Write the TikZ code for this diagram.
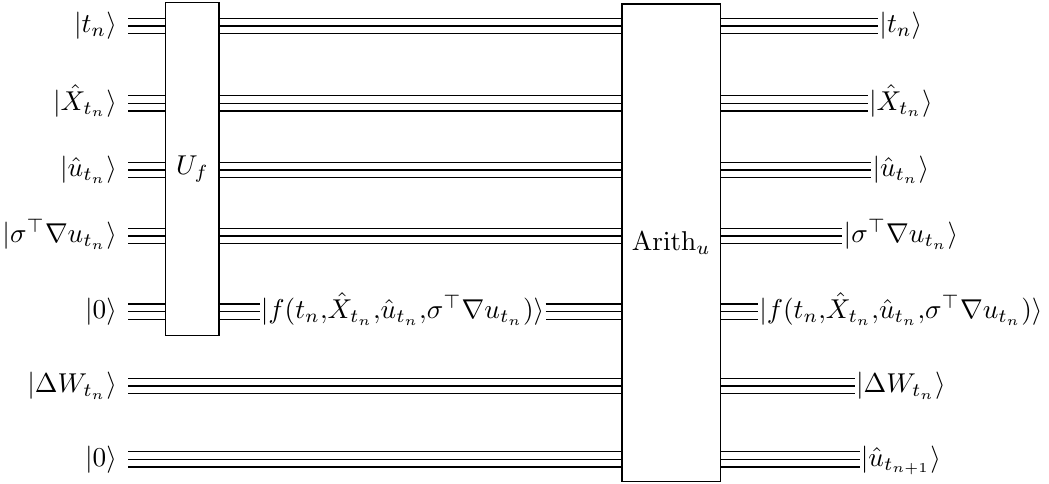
\documentclass[tikz,border=0pt]{standalone}
\usepackage{amsmath,amssymb}
\usetikzlibrary{positioning}

\begin{document}
\begin{tikzpicture}[
  bundle/.style={line width=6.1pt, postaction={draw=white, line width=5.1pt},
                 postaction={draw=black, line width=0.5pt}},
  gatebox/.style={draw, line width=0.5pt, fill=white, inner sep=0pt},
  instate/.style={anchor=east, inner xsep=4pt, inner ysep=0pt,
                  text height=7.5pt, text depth=2.5pt},
  outstate/.style={inner xsep=0.3pt, inner ysep=0pt,
                   text height=7.5pt, text depth=2.5pt}
]

% Frame
\useasboundingbox (0,0) rectangle (13.53,-6.24);

% Gates
\node[gatebox, minimum width=0.688cm, minimum height=4.296cm] (uf) at (2.482,-2.183) {$U_f$};
\node[gatebox, minimum width=1.275cm, minimum height=6.163cm] (arith) at (8.658,-3.133) {$\mathrm{Arith}_u$};

% Input registers
\node[instate] (in1) at (1.655,-0.335) {$|t_n\rangle$};
\node[instate] (in2) at (1.655,-1.333) {$|\hat{X}_{t_n}\rangle$};
\node[instate] (in3) at (1.655,-2.193) {$|\hat{u}_{t_n}\rangle$};
\node[instate] (in4) at (1.655,-3.044) {$|\sigma^\top\nabla u_{t_n}\rangle$};
\node[instate] (in5) at (1.655,-4.021) {$|0\rangle$};
\node[instate] (in6) at (1.655,-4.979) {$|\Delta W_{t_n}\rangle$};
\node[instate] (in7) at (1.655,-5.925) {$|0\rangle$};

% Intermediate register
\node[outstate] (mid) at (5.192,-4.021) {$|f(t_n{,}\hat{X}_{t_n}{,}\hat{u}_{t_n}{,}\sigma^\top\nabla u_{t_n})\rangle$};

% Output registers
\node[outstate] (out1) at (11.62,-0.335) {$|t_n\rangle$};
\node[outstate] (out2) at (11.62,-1.333) {$|\hat{X}_{t_n}\rangle$};
\node[outstate] (out3) at (11.62,-2.193) {$|\hat{u}_{t_n}\rangle$};
\node[outstate] (out4) at (11.62,-3.044) {$|\sigma^\top\nabla u_{t_n}\rangle$};
\node[outstate] (out5) at (11.62,-4.021) {$|f(t_n{,}\hat{X}_{t_n}{,}\hat{u}_{t_n}{,}\sigma^\top\nabla u_{t_n})\rangle$};
\node[outstate] (out6) at (11.62,-4.979) {$|\Delta W_{t_n}\rangle$};
\node[outstate] (out7) at (11.62,-5.925) {$|\hat{u}_{t_{n+1}}\rangle$};

% Wires into U_f
\draw[bundle] (in1.east) -- (in1.east -| uf.west);
\draw[bundle] (in2.east) -- (in2.east -| uf.west);
\draw[bundle] (in3.east) -- (in3.east -| uf.west);
\draw[bundle] (in4.east) -- (in4.east -| uf.west);
\draw[bundle] (in5.east) -- (in5.east -| uf.west);

% Wires from U_f to Arith
\draw[bundle] (uf.east |- in1.east) -- (arith.west |- in1.east);
\draw[bundle] (uf.east |- in2.east) -- (arith.west |- in2.east);
\draw[bundle] (uf.east |- in3.east) -- (arith.west |- in3.east);
\draw[bundle] (uf.east |- in4.east) -- (arith.west |- in4.east);
\draw[bundle] (uf.east |- mid.west) -- (mid.west);
\draw[bundle] (mid.east) -- (arith.west |- mid.east);

% Wires straight into Arith
\draw[bundle] (in6.east) -- (in6.east -| arith.west);
\draw[bundle] (in7.east) -- (in7.east -| arith.west);

% Wires out of Arith
\draw[bundle] (arith.east |- out1.west) -- (out1.west);
\draw[bundle] (arith.east |- out2.west) -- (out2.west);
\draw[bundle] (arith.east |- out3.west) -- (out3.west);
\draw[bundle] (arith.east |- out4.west) -- (out4.west);
\draw[bundle] (arith.east |- out5.west) -- (out5.west);
\draw[bundle] (arith.east |- out6.west) -- (out6.west);
\draw[bundle] (arith.east |- out7.west) -- (out7.west);

\end{tikzpicture}
\end{document}
